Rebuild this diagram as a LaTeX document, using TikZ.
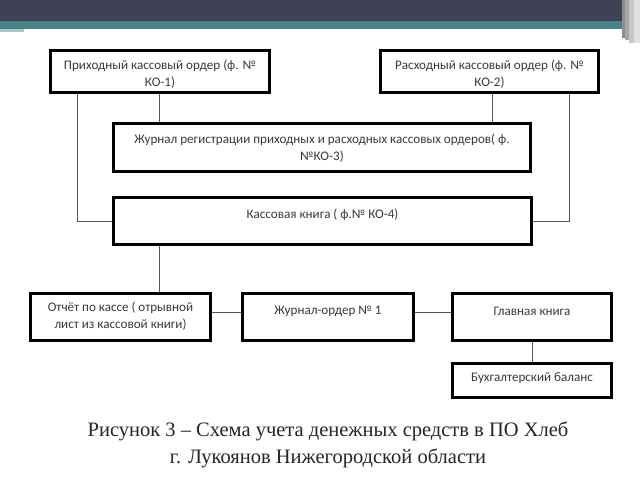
\documentclass[tikz,border=0pt]{standalone}
\usepackage{fontspec}
\setmainfont{Liberation Serif}
\newfontfamily\boxfont{Carlito}
\definecolor{bardark}{HTML}{3F4254}
\definecolor{barteal}{HTML}{4A8288}
\definecolor{barlight}{HTML}{A9C9CC}
\definecolor{txtgray}{HTML}{3A3A3A}
\definecolor{linegray}{HTML}{555555}
\begin{document}
\begin{tikzpicture}[x=1pt,y=-1pt,
  box/.style={draw=black,line width=2.2pt,inner sep=0pt},
  txt/.style={font=\boxfont\fontsize{13.1}{17}\selectfont,text=txtgray,align=center,inner sep=0pt},
  conn/.style={draw=linegray,line width=0.8pt},
  caption/.style={font=\fontsize{20.5}{27}\selectfont,text=black!85,align=center,inner sep=0pt}]
\useasboundingbox (0,0) rectangle (640,480);
\fill[white] (0,0) rectangle (640,480);
% top bar
\fill[bardark] (0,0) rectangle (622,21);
\fill[barteal] (0,21) rectangle (624,29);
\fill[barlight] (0,29) rectangle (24,32);
\fill[black!45] (622,0) rectangle (625,38);
\fill[black!35] (625,0) rectangle (629,40);
\fill[black!22] (629,0) rectangle (634,43);
\fill[black!12] (634,0) rectangle (640,43);
% column coordinates
\coordinate (cl) at (159,0);
\coordinate (xl) at (77,0);
\coordinate (xr) at (569,0);
\coordinate (cr) at (492,0);
\coordinate (rowy) at (0,312);
% boxes
\node[box,minimum width=219pt,minimum height=42pt] (b1) at (160,71.5) {};
\node[txt] (t1) at (160,74.5) {Приходный кассовый ордер (ф. №\\КО-1)};
\node[box,minimum width=218pt,minimum height=42pt] (b2) at (489.5,71.5) {};
\node[txt] (t2) at (489.5,74.5) {Расходный кассовый ордер (ф. №\\КО-2)};
\node[box,minimum width=417pt,minimum height=48pt] (b3) at (322,147.5) {};
\node[txt] (t3) at (322,148) {Журнал регистрации приходных и расходных кассовых ордеров( ф.\\№КО-3)};
\node[box,minimum width=418pt,minimum height=47pt] (b4) at (322.5,221) {};
\node[txt] (t4) at (322.5,215) {Кассовая книга ( ф.№ КО-4)};
\node[box,minimum width=180pt,minimum height=47pt] (b5) at (120.5,317) {};
\node[txt] (t5) at (120.5,316) {Отчёт по кассе ( отрывной\\лист из кассовой книги)};
\node[box,minimum width=171pt,minimum height=47pt] (b6) at (328,317) {};
\node[txt] (t6) at (328,311) {Журнал-ордер № 1};
\node[box,minimum width=159pt,minimum height=47pt] (b7) at (532,317) {};
\node[txt] (t7) at (532,311) {Главная книга};
\node[box,minimum width=159pt,minimum height=34pt] (b8) at (532,380.5) {};
\node[txt] (t8) at (532,378) {Бухгалтерский баланс};
% connectors
\draw[conn] (b1.south -| cl) -- (b3.north -| cl);
\draw[conn] (b2.south -| cr) -- (b3.north -| cr);
\draw[conn] (b1.south -| xl) |- (b4.west);
\draw[conn] (b2.south -| xr) |- (b4.east);
\draw[conn] (b4.south -| cl) -- (b5.north -| cl);
\draw[conn] (b5.east |- rowy) -- (b6.west |- rowy);
\draw[conn] (b6.east |- rowy) -- (b7.west |- rowy);
\draw[conn] (b7.south) -- (b8.north);
% caption
\node[caption] (cap) at (328,445) {Рисунок 3 – Схема учета денежных средств в ПО Хлеб\\г. Лукоянов Нижегородской области};
\end{tikzpicture}
\end{document}
